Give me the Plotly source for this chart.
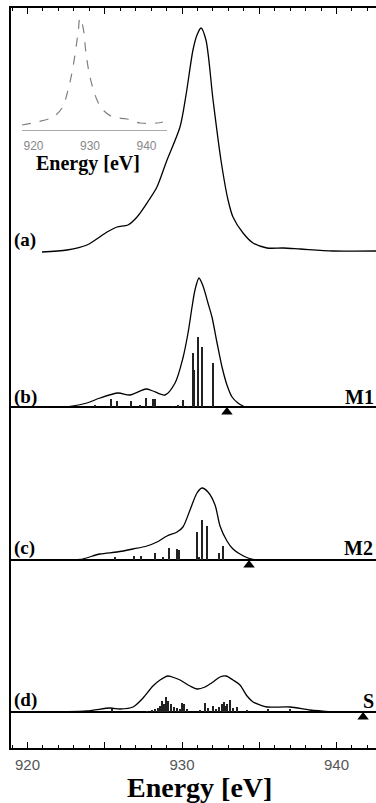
import plotly.graph_objects as go

# ---------------- data (energies in eV, intensities in arbitrary units) ----------------
# (a) experimental spectrum
a_energy = [920.94, 922.56, 923.85, 925.15, 925.79, 926.50, 927.09, 927.86, 928.38, 929.03,
            929.87, 930.26, 930.71, 930.97, 931.23, 931.55, 932.01, 932.52, 932.98, 933.30,
            933.95, 934.60, 935.50, 936.54, 937.64, 939.77, 942.56]
a_intensity = [0, 2, 7, 20, 25, 27, 35, 52, 65, 92,
               125, 157, 202, 217, 224, 212, 152, 92, 52, 35,
               19, 9, 4, 4, 3, 1, 1]

# (b) model M1 : broadened spectrum and line strengths
b_energy = [922.56, 923.85, 924.69, 925.86, 926.63, 927.67, 928.12, 928.90, 929.55, 930.06,
            930.39, 930.65, 930.84, 931.10, 931.36, 931.68, 931.94, 932.27, 932.59, 932.91,
            933.24, 933.62, 934.08]
b_intensity = [0, 4, 9, 14, 12, 18, 16, 12, 24, 49,
               74, 100, 117, 129, 121, 104, 90, 64, 40, 22,
               10, 4, 0]
b_line_energy = [924.37, 925.40, 925.79, 926.70, 927.28, 927.67, 928.12, 928.25, 929.42, 929.74,
                 930.06, 930.39, 930.71, 930.77, 931.04, 931.29, 932.01]
b_line_strength = [2, 8, 6, 6, 2, 9, 8, 8, 1, 2,
                   7, 1, 54, 37, 70, 60, 44]

# (c) model M2
c_energy = [922.10, 923.40, 924.69, 925.79, 926.83, 927.73, 928.38, 929.03, 929.68, 930.06,
            930.52, 930.97, 931.29, 931.68, 932.14, 932.46, 932.91, 933.30, 933.75, 934.27,
            934.72]
c_intensity = [0, 0.5, 6, 8, 11, 14, 18, 24, 28, 33,
               50, 67, 72, 68, 55, 34, 19, 11, 6, 2,
               0]
c_line_energy = [925.66, 926.89, 927.35, 928.25, 928.77, 929.16, 929.68, 929.81, 930.97, 931.10,
                 931.29, 931.62, 932.39, 932.65]
c_line_strength = [3, 4, 4, 7, 3, 12, 11, 10, 28, 3,
                   40, 34, 7, 14]

# (d) model S
d_energy = [920.36, 923.85, 925.34, 925.99, 926.83, 927.48, 928.12, 928.58, 929.09, 929.55,
            929.87, 930.52, 930.97, 931.49, 932.01, 932.46, 932.85, 933.30, 933.75, 934.21,
            934.60, 935.05, 935.50, 936.99, 938.28, 939.77]
d_intensity = [0, 1, 4, 3, 5, 14, 26, 32, 36, 34,
               32, 26, 23, 25, 30, 35, 36, 32, 27, 16,
               10, 7, 5, 5, 2, 0]
d_line_energy = [925.47, 927.73, 928.06, 928.25, 928.45, 928.58, 928.71, 928.83, 928.96, 929.09,
                 929.29, 929.48, 929.68, 929.87, 930.00, 930.13, 930.32, 931.17, 931.49, 931.68,
                 932.01, 932.20, 932.39, 932.59, 932.72, 932.85, 932.91, 933.11, 933.30, 933.56,
                 934.21, 935.57, 936.99]
d_line_strength = [3, 1, 2, 3, 4, 6, 11, 8, 15, 11,
                   8, 5, 4, 3, 9, 8, 3, 2, 9, 4,
                   6, 3, 5, 8, 10, 6, 8, 12, 4, 5,
                   2, 3, 3]

# threshold markers (triangles) for M1, M2, S
thr_energy = [932.91, 934.34, 941.72]

# inset: measured spectrum
inset_energy = [917.96, 920.62, 923.45, 925.04, 926.11, 926.99, 927.88, 928.23, 928.76, 929.29,
                930.00, 931.24, 932.30, 934.07, 936.55, 938.85, 941.86, 942.92]
inset_intensity = [5, 8, 13, 22, 40, 63, 97, 112, 103, 77,
                   53, 30, 20, 13, 11, 7, 7, 8]

panel_labels = ["(a)", "(b)", "(c)", "(d)"]
model_labels = ["M1", "M2", "S"]
main_ticks = [920, 925, 930, 935, 940]
main_ticktext = ["920", "", "930", "", "940"]
inset_ticks = [920, 930, 940]
axis_title = "Energy [eV]"

# ---------------- layout geometry (pixels) ----------------
W, H = 376, 803
L, T, B = 11, 8, 55
PH = H - T - B            # plot height in px
PW = W - L


def py(y):
    return (H - B - y) / PH


def px(x):
    return (x - L) / PW


baselines = [252, 407, 560, 712]   # pixel row of each panel's zero level
below = 20

fig = go.Figure()

xr = [930 + (L - 182) / 15.45, 930 + (W - 182) / 15.45]

# frame subplot (carries the shared energy axis)
fig.add_trace(go.Scatter(x=[xr[0]], y=[-1], mode="markers", marker=dict(opacity=0),
                         xaxis="x", yaxis="y", showlegend=False, hoverinfo="skip"))

panels = [(a_energy, a_intensity, None, None),
          (b_energy, b_intensity, b_line_energy, b_line_strength),
          (c_energy, c_intensity, c_line_energy, c_line_strength),
          (d_energy, d_intensity, d_line_energy, d_line_strength)]

for i, (e, inten, le, ls) in enumerate(panels):
    yname = "y%d" % (i + 2)
    if le is not None:
        fig.add_trace(go.Bar(x=le, y=ls, width=0.075, marker=dict(color="#222", line=dict(width=0)),
                             xaxis="x", yaxis=yname, showlegend=False))
    fig.add_trace(go.Scatter(x=e, y=inten, mode="lines",
                             line=dict(color="black", width=1.3, shape="spline", smoothing=0.8),
                             xaxis="x", yaxis=yname, showlegend=False))
    base = baselines[i]
    fig.layout["yaxis%d" % (i + 2)] = dict(
        domain=[py(base + below), 1], range=[-below, base - T], anchor="x",
        showgrid=False, showticklabels=False, ticks="", showline=False,
        zeroline=(i > 0), zerolinecolor="black", zerolinewidth=2, fixedrange=True)

# triangles
for j, e in enumerate(thr_energy):
    fig.add_trace(go.Scatter(x=[e], y=[-5], mode="markers",
                             marker=dict(symbol="triangle-up", size=10, color="black"),
                             xaxis="x", yaxis="y%d" % (j + 3), showlegend=False, cliponaxis=False))

# inset
fig.add_trace(go.Scatter(x=inset_energy, y=inset_intensity, mode="lines",
                         line=dict(color="#808080", width=1.2, dash="dash", shape="spline"),
                         xaxis="x6", yaxis="y6", showlegend=False))

fig.update_layout(
    width=W, height=H, margin=dict(l=L, r=0, t=T, b=B),
    paper_bgcolor="white", plot_bgcolor="rgba(0,0,0,0)",
    xaxis=dict(domain=[0, 1], range=xr, anchor="y", showline=True, linecolor="black", linewidth=2,
               mirror="ticks", ticks="inside", ticklen=6, tickwidth=1.2, tickcolor="black",
               tickvals=main_ticks, ticktext=main_ticktext, showgrid=False, zeroline=False,
               tickfont=dict(family="Liberation Sans", size=15, color="#555"), ticklabelstandoff=2,
               minor=dict(dtick=1, tick0=920, ticks="inside", ticklen=3, tickwidth=1,
                          tickcolor="black", showgrid=False)),
    yaxis=dict(domain=[0, 1], range=[0, 1], anchor="x", showline=True, linecolor="black", linewidth=2,
               mirror=False, ticks="", showticklabels=False, showgrid=False, zeroline=False),
    xaxis6=dict(domain=[px(22), px(167)], range=[930 + (22 - 90) / 5.65, 930 + (167 - 90) / 5.65],
                anchor="y6", showline=True, linecolor="#aaaaaa", linewidth=1, ticks="",
                tickvals=inset_ticks, showgrid=False, zeroline=False, ticklabelstandoff=5,
                tickfont=dict(family="Liberation Sans", size=12, color="#888")),
    yaxis6=dict(domain=[py(130), py(12)], range=[0, 118], anchor="x6", visible=False),
)

ann = []
ann.append(dict(text=axis_title, x=px(199), y=py(788), xref="paper", yref="paper", showarrow=False,
                xanchor="center", yanchor="middle",
                font=dict(family="Liberation Serif", size=28, color="black", weight="bold")))
ann.append(dict(text=axis_title, x=px(88), y=py(164), xref="paper", yref="paper", showarrow=False,
                xanchor="center", yanchor="middle",
                font=dict(family="Liberation Serif", size=20, color="black", weight="bold")))
label_y = [240, 397, 548, 700]
for lab, yy in zip(panel_labels, label_y):
    ann.append(dict(text=lab, x=px(12), y=py(yy), xref="paper", yref="paper", showarrow=False,
                    xanchor="left", yanchor="middle",
                    font=dict(family="Liberation Serif", size=19, color="black", weight="bold")))
model_pos = [(376, 397), (375, 548), (376, 701)]
for lab, (xx, yy) in zip(model_labels, model_pos):
    ann.append(dict(text=lab, x=px(xx), y=py(yy), xref="paper", yref="paper", showarrow=False,
                    xanchor="right", yanchor="middle",
                    font=dict(family="Liberation Serif", size=20, color="black", weight="bold")))
fig.update_layout(annotations=ann)

fig.write_html("out.html")
